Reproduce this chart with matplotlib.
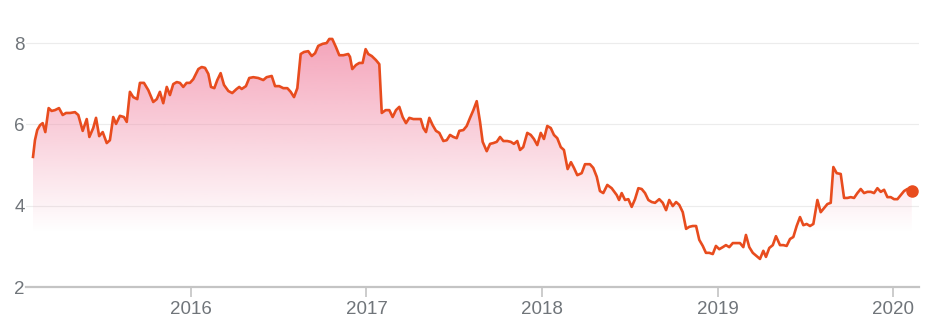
import numpy as np
import matplotlib
matplotlib.use("Agg")
from matplotlib import pyplot as plt

plt.rcParams['font.family'] = ['Liberation Sans', 'DejaVu Sans']

# 时间（小数年）和数值
t = [2015.100, 2015.111, 2015.124, 2015.140, 2015.155, 2015.170, 2015.189, 2015.206, 2015.225, 2015.248,
     2015.269, 2015.288, 2015.311, 2015.339, 2015.358, 2015.383, 2015.406, 2015.421, 2015.443, 2015.459,
     2015.477, 2015.497, 2015.520, 2015.538, 2015.557, 2015.573, 2015.595, 2015.618, 2015.634, 2015.652,
     2015.671, 2015.694, 2015.709, 2015.732, 2015.757, 2015.785, 2015.805, 2015.823, 2015.842, 2015.862,
     2015.880, 2015.899, 2015.919, 2015.937, 2015.956, 2015.975, 2015.994, 2016.013, 2016.042, 2016.061,
     2016.080, 2016.099, 2016.114, 2016.133, 2016.150, 2016.169, 2016.188, 2016.213, 2016.235, 2016.260,
     2016.275, 2016.289, 2016.313, 2016.332, 2016.355, 2016.383, 2016.412, 2016.431, 2016.460, 2016.479,
     2016.503, 2016.526, 2016.549, 2016.568, 2016.587, 2016.606, 2016.625, 2016.644, 2016.668, 2016.688,
     2016.707, 2016.725, 2016.750, 2016.773, 2016.788, 2016.805, 2016.826, 2016.845, 2016.868, 2016.896,
     2016.906, 2016.919, 2016.940, 2016.959, 2016.978, 2016.995, 2017.010, 2017.030, 2017.054, 2017.073,
     2017.087, 2017.109, 2017.130, 2017.149, 2017.168, 2017.187, 2017.206, 2017.225, 2017.244, 2017.267,
     2017.295, 2017.309, 2017.324, 2017.339, 2017.358, 2017.377, 2017.396, 2017.415, 2017.438, 2017.457,
     2017.476, 2017.495, 2017.514, 2017.529, 2017.552, 2017.571, 2017.590, 2017.609, 2017.628, 2017.647,
     2017.662, 2017.685, 2017.704, 2017.723, 2017.742, 2017.761, 2017.780, 2017.802, 2017.822, 2017.840,
     2017.859, 2017.875, 2017.893, 2017.916, 2017.936, 2017.954, 2017.973, 2017.993, 2018.011, 2018.030,
     2018.050, 2018.068, 2018.087, 2018.107, 2018.125, 2018.146, 2018.165, 2018.182, 2018.201, 2018.226,
     2018.245, 2018.273, 2018.292, 2018.312, 2018.330, 2018.349, 2018.372, 2018.397, 2018.426, 2018.439,
     2018.454, 2018.473, 2018.492, 2018.511, 2018.530, 2018.549, 2018.568, 2018.587, 2018.606, 2018.625,
     2018.644, 2018.668, 2018.688, 2018.707, 2018.725, 2018.745, 2018.764, 2018.782, 2018.802, 2018.821,
     2018.839, 2018.859, 2018.878, 2018.896, 2018.916, 2018.934, 2018.953, 2018.973, 2018.991, 2019.010,
     2019.030, 2019.048, 2019.067, 2019.087, 2019.109, 2019.128, 2019.147, 2019.162, 2019.181, 2019.201,
     2019.223, 2019.242, 2019.261, 2019.276, 2019.295, 2019.315, 2019.333, 2019.356, 2019.375, 2019.394,
     2019.413, 2019.432, 2019.451, 2019.470, 2019.489, 2019.508, 2019.527, 2019.546, 2019.569, 2019.588,
     2019.607, 2019.626, 2019.645, 2019.660, 2019.679, 2019.702, 2019.721, 2019.740, 2019.759, 2019.778,
     2019.797, 2019.816, 2019.835, 2019.854, 2019.873, 2019.892, 2019.911, 2019.930, 2019.949, 2019.968,
     2019.987, 2020.006, 2020.025, 2020.044, 2020.063, 2020.082, 2020.107]
v = [5.20, 5.61, 5.86, 5.98, 6.03, 5.81, 6.40, 6.33, 6.35, 6.40,
     6.23, 6.28, 6.28, 6.30, 6.23, 5.84, 6.13, 5.69, 5.91, 6.16,
     5.71, 5.81, 5.54, 5.61, 6.18, 6.01, 6.21, 6.18, 6.06, 6.80,
     6.67, 6.62, 7.02, 7.02, 6.84, 6.55, 6.62, 6.80, 6.52, 6.92,
     6.72, 6.99, 7.04, 7.02, 6.92, 7.02, 7.02, 7.11, 7.36, 7.41,
     7.39, 7.24, 6.92, 6.89, 7.09, 7.26, 6.97, 6.82, 6.77, 6.87,
     6.92, 6.87, 6.94, 7.14, 7.16, 7.14, 7.09, 7.16, 7.19, 6.94,
     6.94, 6.89, 6.89, 6.80, 6.67, 6.89, 7.73, 7.78, 7.80, 7.68,
     7.75, 7.93, 7.98, 8.00, 8.10, 8.10, 7.90, 7.70, 7.70, 7.73,
     7.66, 7.36, 7.46, 7.51, 7.51, 7.85, 7.73, 7.68, 7.58, 7.48,
     6.28, 6.35, 6.35, 6.18, 6.35, 6.43, 6.18, 6.03, 6.16, 6.13,
     6.13, 6.13, 5.91, 5.81, 6.16, 5.98, 5.84, 5.79, 5.59, 5.61,
     5.74, 5.69, 5.66, 5.84, 5.86, 5.96, 6.16, 6.35, 6.57, 6.06,
     5.57, 5.34, 5.52, 5.54, 5.57, 5.69, 5.59, 5.59, 5.57, 5.52,
     5.59, 5.37, 5.44, 5.79, 5.74, 5.64, 5.49, 5.79, 5.64, 5.96,
     5.91, 5.74, 5.66, 5.44, 5.37, 4.90, 5.07, 4.93, 4.75, 4.80,
     5.02, 5.02, 4.93, 4.71, 4.36, 4.31, 4.51, 4.43, 4.26, 4.14,
     4.31, 4.14, 4.16, 3.97, 4.16, 4.43, 4.41, 4.31, 4.14, 4.09,
     4.07, 4.16, 4.07, 3.89, 4.14, 3.99, 4.09, 4.02, 3.84, 3.43,
     3.48, 3.50, 3.50, 3.16, 3.01, 2.84, 2.84, 2.81, 3.01, 2.93,
     2.98, 3.03, 2.98, 3.08, 3.08, 3.08, 2.98, 3.28, 2.98, 2.84,
     2.76, 2.69, 2.89, 2.74, 2.96, 3.03, 3.25, 3.03, 3.03, 3.01,
     3.18, 3.23, 3.50, 3.72, 3.52, 3.55, 3.50, 3.55, 4.14, 3.84,
     3.94, 4.04, 4.07, 4.95, 4.80, 4.78, 4.19, 4.19, 4.21, 4.19,
     4.31, 4.41, 4.31, 4.34, 4.34, 4.31, 4.43, 4.34, 4.39, 4.21,
     4.21, 4.16, 4.16, 4.26, 4.36, 4.41, 4.36]

years = [2016, 2017, 2018, 2019, 2020]
yticks = [2, 4, 6, 8]

line_color = '#e84c1e'
text_color = '#70757a'

fig = plt.figure(figsize=(9.39, 3.33), dpi=100)
ax = fig.add_axes([26 / 939, 46 / 333, 893 / 939, 276.5 / 333])

ax.set_xlim(2015.060, 2020.148)
ax.set_ylim(2, 8.8)

# 渐变填充
fill_bottom = 3.35
grad = np.zeros((256, 1, 4))
grad[:, 0, 0] = 242 / 255
grad[:, 0, 1] = 140 / 255
grad[:, 0, 2] = 168 / 255
grad[:, 0, 3] = np.linspace(0, 0.8, 256)
img = ax.imshow(grad, extent=[t[0], t[-1], fill_bottom, 8.15], origin='lower',
                aspect='auto', zorder=1)
poly = ax.fill_between(t, v, 2, facecolor='none', edgecolor='none')
img.set_clip_path(poly.get_paths()[0], transform=ax.transData)

ax.plot(t, v, color=line_color, lw=1.9, zorder=3, solid_joinstyle='round')
ax.plot(t[-1], v[-1], 'o', color=line_color, ms=8, zorder=4)

# 网格与坐标轴
for y in yticks[1:]:
    ax.axhline(y, color='#ececec', lw=0.8, zorder=0)

for s in ['top', 'right', 'left']:
    ax.spines[s].set_visible(False)
ax.spines['bottom'].set_color('#c4c4c4')
ax.spines['bottom'].set_linewidth(1.6)

ax.set_xticks(years)
ax.set_xticklabels([str(y) for y in years])
ax.set_yticks(yticks)
ax.set_yticklabels([str(y) for y in yticks])
ax.tick_params(axis='x', length=7, width=1.2, color='#c4c4c4', labelsize=13.5,
               labelcolor=text_color, pad=3)
ax.tick_params(axis='y', length=0, labelsize=13.5, labelcolor=text_color, pad=1)

plt.savefig('out.png', dpi=100)
